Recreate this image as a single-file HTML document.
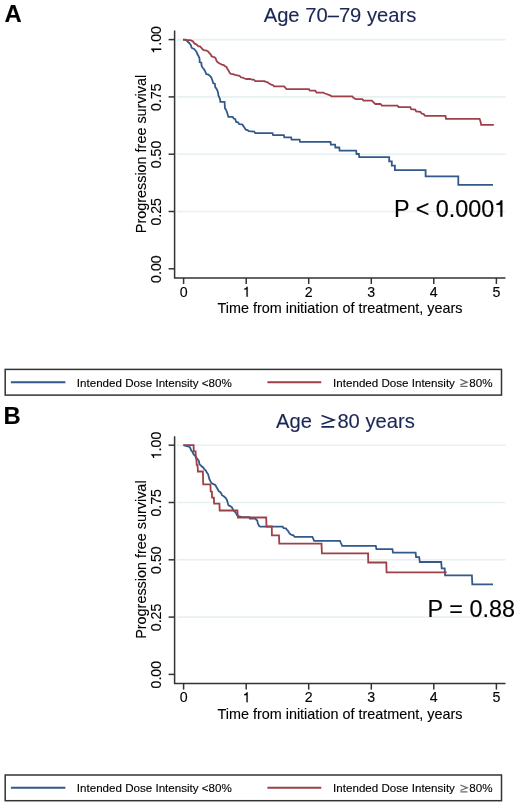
<!DOCTYPE html>
<html><head><meta charset="utf-8"><style>
html,body{margin:0;padding:0;background:#fff;}
svg{display:block;will-change:transform;}
text{font-family:"Liberation Sans", sans-serif;fill:#000;stroke:#000;stroke-width:0.12px;}
.nv{fill:#1b2754;stroke:#1b2754;}
</style></head><body>
<svg width="520" height="804" viewBox="0 0 520 804" fill="#000">
<rect width="520" height="804" fill="#fff"/>
<line x1="176.8" y1="39.6" x2="505.6" y2="39.6" stroke="#e6f1f0" stroke-width="1.6"/>
<line x1="176.8" y1="96.9" x2="505.6" y2="96.9" stroke="#e6f1f0" stroke-width="1.6"/>
<line x1="176.8" y1="154.2" x2="505.6" y2="154.2" stroke="#e6f1f0" stroke-width="1.6"/>
<line x1="176.8" y1="211.5" x2="505.6" y2="211.5" stroke="#e6f1f0" stroke-width="1.6"/>
<path d="M174.6,30.6 V277.9 H505.5" fill="none" stroke="#333333" stroke-width="1.5"/>
<line x1="168.6" y1="39.6" x2="174.6" y2="39.6" stroke="#333333" stroke-width="1.5"/>
<line x1="168.6" y1="96.9" x2="174.6" y2="96.9" stroke="#333333" stroke-width="1.5"/>
<line x1="168.6" y1="154.2" x2="174.6" y2="154.2" stroke="#333333" stroke-width="1.5"/>
<line x1="168.6" y1="211.5" x2="174.6" y2="211.5" stroke="#333333" stroke-width="1.5"/>
<line x1="168.6" y1="268.8" x2="174.6" y2="268.8" stroke="#333333" stroke-width="1.5"/>
<g transform="translate(161.2,39.9) rotate(-90)"><path d="M0.359,0 L0.359,-0.703 L0.285,-0.703 C0.265,-0.625 0.2,-0.575 0.101,-0.565 L0.101,-0.5 L0.27,-0.5 L0.27,0 Z" transform="translate(-13.82,0.00) scale(14.2)" fill="#000" stroke="#000" stroke-width="0.0085"/><text x="-5.92" y="0" font-size="14.2">.00</text></g>
<text transform="translate(161.2,97.2) rotate(-90)" text-anchor="middle" font-size="14.2">0.75</text>
<text transform="translate(161.2,154.5) rotate(-90)" text-anchor="middle" font-size="14.2">0.50</text>
<text transform="translate(161.2,211.8) rotate(-90)" text-anchor="middle" font-size="14.2">0.25</text>
<text transform="translate(161.2,269.1) rotate(-90)" text-anchor="middle" font-size="14.2">0.00</text>
<line x1="183.6" y1="277.9" x2="183.6" y2="284.0" stroke="#333333" stroke-width="1.5"/>
<text x="183.6" y="296.7" text-anchor="middle" font-size="14.2">0</text>
<line x1="246.2" y1="277.9" x2="246.2" y2="284.0" stroke="#333333" stroke-width="1.5"/>
<path d="M0.359,0 L0.359,-0.703 L0.285,-0.703 C0.265,-0.625 0.2,-0.575 0.101,-0.565 L0.101,-0.5 L0.27,-0.5 L0.27,0 Z" transform="translate(242.61,296.70) scale(14.2)" fill="#000" stroke="#000" stroke-width="0.0085"/>
<line x1="308.7" y1="277.9" x2="308.7" y2="284.0" stroke="#333333" stroke-width="1.5"/>
<text x="308.7" y="296.7" text-anchor="middle" font-size="14.2">2</text>
<line x1="371.3" y1="277.9" x2="371.3" y2="284.0" stroke="#333333" stroke-width="1.5"/>
<text x="371.3" y="296.7" text-anchor="middle" font-size="14.2">3</text>
<line x1="433.8" y1="277.9" x2="433.8" y2="284.0" stroke="#333333" stroke-width="1.5"/>
<text x="433.8" y="296.7" text-anchor="middle" font-size="14.2">4</text>
<line x1="496.4" y1="277.9" x2="496.4" y2="284.0" stroke="#333333" stroke-width="1.5"/>
<text x="496.4" y="296.7" text-anchor="middle" font-size="14.2">5</text>
<text x="340" y="313.0" text-anchor="middle" font-size="14.4">Time from initiation of treatment, years</text>
<text transform="translate(145.5,154.0) rotate(-90)" text-anchor="middle" font-size="14.4">Progression free survival</text>
<text x="340" y="21.5" text-anchor="middle" font-size="20.2" class="nv">Age 70–79 years</text>
<text x="4.4" y="21.9" font-size="23.8" font-weight="bold">A</text>
<text x="394.0" y="216.8" font-size="23.4">P &lt; 0.000</text>
<path d="M0.359,0 L0.359,-0.703 L0.285,-0.703 C0.265,-0.625 0.2,-0.575 0.101,-0.565 L0.101,-0.5 L0.27,-0.5 L0.27,0 Z" transform="translate(494.00,216.80) scale(23.4)" fill="#000" stroke="#000" stroke-width="0.0051"/>
<polyline points="183.1,39.6 186.5,40.2 187.7,41.8 189.2,42.9 190.4,44.5 191.2,46.0 191.5,47.5 192.3,48.3 193.8,48.7 195.0,49.8 196.2,51.4 196.9,52.5 197.3,54.1 198.5,56.0 199.2,57.5 199.6,59.1 199.6,62.0 201.3,62.6 201.6,65.8 202.5,67.5 204.2,69.5 205.4,71.8 206.3,74.1 208.0,74.4 209.7,75.6 211.2,77.3 212.3,80.2 213.2,83.1 214.9,83.9 215.2,87.1 216.4,88.6 217.5,90.9 218.1,92.9 218.4,95.5 219.2,97.2 220.1,99.5 220.3,101.8 224.6,101.8 224.9,108.1 226.1,110.0 227.2,112.7 228.4,116.9 232.6,116.9 233.8,118.5 235.3,119.2 236.1,121.9 238.0,122.3 239.2,124.1 242.2,124.4 244.2,127.3 245.7,129.6 247.6,130.0 248.8,131.2 254.2,131.5 255.3,133.2 272.5,133.2 273.1,135.1 283.9,135.1 284.3,137.3 291.1,137.3 291.6,139.6 299.6,139.6 300.1,141.9 330.5,141.9 330.8,144.6 335.1,144.6 335.4,147.5 339.3,147.5 339.6,150.6 356.2,150.6 356.5,154.0 358.9,154.0 359.2,157.1 389.2,157.1 389.2,161.3 391.8,161.3 391.8,165.6 394.9,165.6 394.9,170.2 425.6,170.2 425.6,176.4 458.3,176.4 458.3,184.9 493.0,184.9" fill="none" stroke="#32598a" stroke-width="1.8" stroke-linejoin="miter"/>
<polyline points="183.1,39.6 186.0,39.6 187.0,40.2 190.0,40.2 191.5,40.6 193.1,41.5 194.2,43.3 195.8,44.1 197.3,45.2 198.5,46.4 200.0,46.4 201.2,47.5 202.3,49.1 203.8,50.2 206.5,50.5 208.1,51.4 209.2,52.9 210.8,54.5 211.5,56.2 213.1,56.8 214.6,57.2 215.6,58.3 216.5,60.8 217.7,62.3 219.6,63.5 221.9,64.6 223.8,65.0 225.0,66.2 226.5,66.9 227.3,68.8 228.5,70.4 229.6,72.7 230.8,73.8 233.1,74.1 235.0,74.8 237.3,75.4 239.6,75.8 240.8,77.3 242.7,77.7 244.6,78.5 246.5,79.0 250.0,79.0 251.9,79.7 253.8,79.7 255.3,81.1 264.4,81.1 265.9,81.9 267.3,82.1 269.2,83.5 271.2,84.7 273.1,85.2 274.0,86.4 284.1,86.4 285.1,87.4 286.5,89.2 308.9,89.2 309.9,90.7 315.2,90.7 316.6,92.6 323.4,92.6 324.8,93.5 326.7,94.0 328.2,94.7 330.6,95.5 331.5,96.4 352.3,96.4 353.5,97.8 355.8,99.2 362.3,99.2 363.5,100.6 371.9,100.6 373.5,102.3 375.4,104.0 380.4,104.0 381.9,105.7 397.5,105.7 398.6,107.1 410.3,107.1 411.2,109.2 415.3,109.7 416.1,111.4 420.4,111.8 421.7,113.5 423.7,114.1 425.1,115.8 445.5,115.8 446.0,118.8 479.6,118.8 480.5,121.5 481.2,124.8 493.8,124.8" fill="none" stroke="#9d4048" stroke-width="1.8" stroke-linejoin="miter"/>
<rect x="5.2" y="369.4" width="496.3" height="25.7" fill="none" stroke="#333333" stroke-width="1.5"/>
<line x1="10.9" y1="382.2" x2="65.4" y2="382.2" stroke="#32598a" stroke-width="1.9"/>
<line x1="267.4" y1="382.2" x2="321.3" y2="382.2" stroke="#9d4048" stroke-width="1.9"/>
<text x="76.8" y="386.6" font-size="11.6">Intended Dose Intensity &lt;80%</text>
<text x="333.1" y="386.6" font-size="11.6">Intended Dose Intensity</text>
<path d="M460.4,379.4 L467.2,382.2 L460.4,384.9 M460.4,386.3 H467.5" fill="none" stroke="#6a6a6a" stroke-width="1.3"/>
<text x="469.3" y="386.6" font-size="11.6">80%</text>
<line x1="176.8" y1="445.2" x2="505.6" y2="445.2" stroke="#e6f1f0" stroke-width="1.6"/>
<line x1="176.8" y1="502.5" x2="505.6" y2="502.5" stroke="#e6f1f0" stroke-width="1.6"/>
<line x1="176.8" y1="559.8" x2="505.6" y2="559.8" stroke="#e6f1f0" stroke-width="1.6"/>
<line x1="176.8" y1="617.1" x2="505.6" y2="617.1" stroke="#e6f1f0" stroke-width="1.6"/>
<path d="M174.6,436.20000000000005 V683.5 H505.5" fill="none" stroke="#333333" stroke-width="1.5"/>
<line x1="168.6" y1="445.2" x2="174.6" y2="445.2" stroke="#333333" stroke-width="1.5"/>
<line x1="168.6" y1="502.5" x2="174.6" y2="502.5" stroke="#333333" stroke-width="1.5"/>
<line x1="168.6" y1="559.8" x2="174.6" y2="559.8" stroke="#333333" stroke-width="1.5"/>
<line x1="168.6" y1="617.1" x2="174.6" y2="617.1" stroke="#333333" stroke-width="1.5"/>
<line x1="168.6" y1="674.4" x2="174.6" y2="674.4" stroke="#333333" stroke-width="1.5"/>
<g transform="translate(161.2,445.5) rotate(-90)"><path d="M0.359,0 L0.359,-0.703 L0.285,-0.703 C0.265,-0.625 0.2,-0.575 0.101,-0.565 L0.101,-0.5 L0.27,-0.5 L0.27,0 Z" transform="translate(-13.82,0.00) scale(14.2)" fill="#000" stroke="#000" stroke-width="0.0085"/><text x="-5.92" y="0" font-size="14.2">.00</text></g>
<text transform="translate(161.2,502.8) rotate(-90)" text-anchor="middle" font-size="14.2">0.75</text>
<text transform="translate(161.2,560.1) rotate(-90)" text-anchor="middle" font-size="14.2">0.50</text>
<text transform="translate(161.2,617.4) rotate(-90)" text-anchor="middle" font-size="14.2">0.25</text>
<text transform="translate(161.2,674.7) rotate(-90)" text-anchor="middle" font-size="14.2">0.00</text>
<line x1="183.6" y1="683.5" x2="183.6" y2="689.6" stroke="#333333" stroke-width="1.5"/>
<text x="183.6" y="702.3" text-anchor="middle" font-size="14.2">0</text>
<line x1="246.2" y1="683.5" x2="246.2" y2="689.6" stroke="#333333" stroke-width="1.5"/>
<path d="M0.359,0 L0.359,-0.703 L0.285,-0.703 C0.265,-0.625 0.2,-0.575 0.101,-0.565 L0.101,-0.5 L0.27,-0.5 L0.27,0 Z" transform="translate(242.61,702.30) scale(14.2)" fill="#000" stroke="#000" stroke-width="0.0085"/>
<line x1="308.7" y1="683.5" x2="308.7" y2="689.6" stroke="#333333" stroke-width="1.5"/>
<text x="308.7" y="702.3" text-anchor="middle" font-size="14.2">2</text>
<line x1="371.3" y1="683.5" x2="371.3" y2="689.6" stroke="#333333" stroke-width="1.5"/>
<text x="371.3" y="702.3" text-anchor="middle" font-size="14.2">3</text>
<line x1="433.8" y1="683.5" x2="433.8" y2="689.6" stroke="#333333" stroke-width="1.5"/>
<text x="433.8" y="702.3" text-anchor="middle" font-size="14.2">4</text>
<line x1="496.4" y1="683.5" x2="496.4" y2="689.6" stroke="#333333" stroke-width="1.5"/>
<text x="496.4" y="702.3" text-anchor="middle" font-size="14.2">5</text>
<text x="340" y="718.6" text-anchor="middle" font-size="14.4">Time from initiation of treatment, years</text>
<text transform="translate(145.5,559.6) rotate(-90)" text-anchor="middle" font-size="14.4">Progression free survival</text>
<text x="276" y="427.8" font-size="20.2" class="nv">Age</text><path d="M321.6,415.6 L333.8,419.9 L321.6,424.2 M321.4,426.9 H334.2" fill="none" stroke="#1b2754" stroke-width="1.6"/><text x="337.4" y="427.8" font-size="20.2" class="nv">80 years</text>
<text x="3.4" y="423.9" font-size="23.8" font-weight="bold">B</text>
<text x="427.6" y="617.3" font-size="23.4">P = 0.88</text>
<polyline points="183.4,445.2 185.8,445.8 188.1,446.3 189.8,447.2 190.7,449.2 191.3,450.7 192.4,451.5 193.0,453.3 194.1,455.0 195.6,456.4 197.0,458.5 198.2,459.9 199.0,461.4 199.3,463.7 200.2,464.8 201.9,466.5 203.4,467.7 204.3,469.2 205.8,470.6 206.9,472.6 208.1,474.3 208.9,477.2 209.5,479.5 210.7,481.8 212.1,483.6 214.1,484.4 215.3,485.0 216.4,487.0 217.9,489.4 218.8,491.4 220.2,491.9 221.4,493.7 221.9,495.2 223.8,496.3 225.8,498.0 227.1,500.4 227.8,503.1 228.5,505.4 230.2,506.1 231.9,507.4 232.9,509.5 234.2,511.2 235.9,512.8 236.9,514.9 238.2,516.2 240.3,516.6 241.6,517.2 249.5,517.2 249.8,518.7 255.3,518.7 256.1,519.5 257.3,520.7 257.8,523.3 259.3,526.2 260.4,526.7 282.7,526.7 283.6,528.1 285.9,528.4 287.0,529.8 288.2,531.0 289.1,532.7 290.2,534.1 291.7,535.0 293.4,535.3 294.8,536.8 312.4,536.8 313.2,538.7 314.1,540.8 340.0,540.8 340.9,543.0 342.2,545.9 375.8,545.9 376.4,549.2 392.4,549.2 393.0,552.6 415.6,552.6 416.1,557.1 419.2,557.1 419.8,562.0 441.2,562.0 441.7,568.4 444.7,568.4 445.1,575.3 471.9,575.3 472.3,584.4 493.0,584.4" fill="none" stroke="#32598a" stroke-width="1.8" stroke-linejoin="miter"/>
<polyline points="183.4,445.2 193.6,445.2 193.8,451.4 195.6,451.4 195.9,458.5 196.4,459.0 196.7,464.9 197.6,465.1 197.9,471.5 202.9,471.5 203.2,484.4 210.4,484.4 210.7,491.5 211.9,491.7 212.1,497.6 213.9,497.6 214.1,503.7 219.4,503.7 219.7,510.5 237.4,510.5 237.9,517.5 266.2,517.5 266.5,526.5 271.8,526.5 271.9,535.3 279.0,535.3 279.3,543.6 321.5,543.6 321.9,553.3 368.1,553.3 368.2,562.5 386.3,562.5 386.6,572.3 446.7,572.3" fill="none" stroke="#9d4048" stroke-width="1.8" stroke-linejoin="miter"/>
<rect x="5.2" y="775.0" width="496.3" height="25.7" fill="none" stroke="#333333" stroke-width="1.5"/>
<line x1="10.9" y1="787.8" x2="65.4" y2="787.8" stroke="#32598a" stroke-width="1.9"/>
<line x1="267.4" y1="787.8" x2="321.3" y2="787.8" stroke="#9d4048" stroke-width="1.9"/>
<text x="76.8" y="792.2" font-size="11.6">Intended Dose Intensity &lt;80%</text>
<text x="333.1" y="792.2" font-size="11.6">Intended Dose Intensity</text>
<path d="M460.4,785.0 L467.2,787.8 L460.4,790.5 M460.4,791.9 H467.5" fill="none" stroke="#6a6a6a" stroke-width="1.3"/>
<text x="469.3" y="792.2" font-size="11.6">80%</text>
</svg>
</body></html>
